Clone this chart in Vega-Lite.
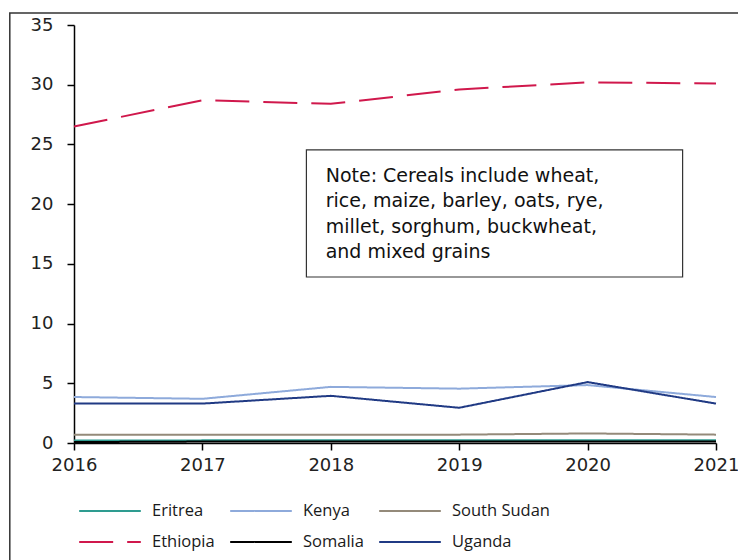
{
  "$schema": "https://vega.github.io/schema/vega-lite/v6.json",
  "width": 642,
  "height": 418,
  "autosize": {"type": "none"},
  "padding": {"left": 74, "top": 25, "right": 22, "bottom": 117},
  "background": "white",
  "config": {
    "view": {"stroke": null},
    "font": "DejaVu Sans"
  },
  "datasets": {
    "cereal": [
      {"country": "Ethiopia", "year": 2016, "value": 26.5},
      {"country": "Ethiopia", "year": 2017, "value": 28.7},
      {"country": "Ethiopia", "year": 2018, "value": 28.4},
      {"country": "Ethiopia", "year": 2019, "value": 29.6},
      {"country": "Ethiopia", "year": 2020, "value": 30.2},
      {"country": "Ethiopia", "year": 2021, "value": 30.1},
      {"country": "Kenya", "year": 2016, "value": 3.85},
      {"country": "Kenya", "year": 2017, "value": 3.7},
      {"country": "Kenya", "year": 2018, "value": 4.7},
      {"country": "Kenya", "year": 2019, "value": 4.55},
      {"country": "Kenya", "year": 2020, "value": 4.85},
      {"country": "Kenya", "year": 2021, "value": 3.85},
      {"country": "Uganda", "year": 2016, "value": 3.3},
      {"country": "Uganda", "year": 2017, "value": 3.3},
      {"country": "Uganda", "year": 2018, "value": 3.95},
      {"country": "Uganda", "year": 2019, "value": 2.95},
      {"country": "Uganda", "year": 2020, "value": 5.1},
      {"country": "Uganda", "year": 2021, "value": 3.3},
      {"country": "South Sudan", "year": 2016, "value": 0.7},
      {"country": "South Sudan", "year": 2017, "value": 0.7},
      {"country": "South Sudan", "year": 2018, "value": 0.7},
      {"country": "South Sudan", "year": 2019, "value": 0.7},
      {"country": "South Sudan", "year": 2020, "value": 0.8},
      {"country": "South Sudan", "year": 2021, "value": 0.7},
      {"country": "Eritrea", "year": 2016, "value": 0.2},
      {"country": "Eritrea", "year": 2017, "value": 0.22},
      {"country": "Eritrea", "year": 2018, "value": 0.22},
      {"country": "Eritrea", "year": 2019, "value": 0.22},
      {"country": "Eritrea", "year": 2020, "value": 0.23},
      {"country": "Eritrea", "year": 2021, "value": 0.22},
      {"country": "Somalia", "year": 2016, "value": 0.08},
      {"country": "Somalia", "year": 2017, "value": 0.12},
      {"country": "Somalia", "year": 2018, "value": 0.12},
      {"country": "Somalia", "year": 2019, "value": 0.12},
      {"country": "Somalia", "year": 2020, "value": 0.12},
      {"country": "Somalia", "year": 2021, "value": 0.12}
    ],
    "one": [{}]
  },
  "layer": [
    {
      "data": {"name": "one"},
      "mark": {"type": "rect", "fill": null, "stroke": "#333333", "strokeWidth": 1.5, "clip": false},
      "encoding": {
        "x": {"datum": 2015.5, "type": "quantitative"},
        "x2": {"datum": 2021.4},
        "y": {"datum": 36.0, "type": "quantitative"},
        "y2": {"datum": -12}
      }
    },
    {
      "data": {"name": "cereal"},
      "mark": {"type": "line", "clip": false},
      "encoding": {
        "x": {
          "field": "year", "type": "quantitative",
          "scale": {"domain": [2016, 2021], "nice": false, "zero": false},
          "axis": {
            "title": null, "values": [2016, 2017, 2018, 2019, 2020, 2021], "format": "d",
            "grid": false, "domainColor": "#000", "tickColor": "#000", "tickSize": 7,
            "labelFontSize": 18, "labelColor": "#222", "labelPadding": 6, "labelFlush": false,
            "domainWidth": 1.5, "tickWidth": 1.5
          }
        },
        "y": {
          "field": "value", "type": "quantitative",
          "scale": {"domain": [0, 35], "nice": false},
          "axis": {
            "title": null, "values": [0, 5, 10, 15, 20, 25, 30, 35],
            "grid": false, "domainColor": "#000", "tickColor": "#000", "tickSize": 7,
            "labelFontSize": 18, "labelColor": "#222", "labelPadding": 14,
            "domainWidth": 1.5, "tickWidth": 1.5
          }
        },
        "color": {
          "field": "country", "type": "nominal",
          "scale": {
            "domain": ["Eritrea", "Kenya", "South Sudan", "Ethiopia", "Somalia", "Uganda"],
            "range": ["#2e9c90", "#8eaadb", "#948a7a", "#d0184c", "#000000", "#203a84"]
          },
          "legend": {
            "title": null, "orient": "none", "legendX": 4, "legendY": 476,
            "direction": "horizontal", "columns": 3, "symbolType": "stroke",
            "symbolSize": 3800, "labelFont": "Open Sans", "labelFontSize": 16.5,
            "labelColor": "#1a1a1a", "labelOffset": 10, "columnPadding": 14, "rowPadding": 11,
            "clipHeight": 20,
            "padding": 0, "symbolStrokeWidth": 2
          }
        },
        "strokeDash": {
          "field": "country", "type": "nominal",
          "scale": {
            "domain": ["Eritrea", "Kenya", "South Sudan", "Ethiopia", "Somalia", "Uganda"],
            "range": [[1, 0], [1, 0], [1, 0], [34, 14], [1, 0], [1, 0]]
          }
        },
        "strokeWidth": {
          "field": "country", "type": "nominal",
          "scale": {
            "domain": ["Eritrea", "Kenya", "South Sudan", "Ethiopia", "Somalia", "Uganda"],
            "range": [2, 2, 2, 3, 2, 2]
          }
        },
        "order": {"field": "year", "type": "quantitative"}
      }
    },
    {
      "data": {"name": "one"},
      "mark": {"type": "rect", "fill": "white", "stroke": "#333333", "strokeWidth": 1.2},
      "encoding": {
        "x": {"datum": 2017.81, "type": "quantitative"},
        "x2": {"datum": 2020.74},
        "y": {"datum": 24.54, "type": "quantitative"},
        "y2": {"datum": 13.9}
      }
    },
    {
      "data": {"name": "one"},
      "mark": {
        "type": "text", "align": "left", "baseline": "top", "font": "DejaVu Sans",
        "fontSize": 19, "lineHeight": 25.5, "color": "#111",
        "text": ["Note: Cereals include wheat,", "rice, maize, barley, oats, rye,", "millet, sorghum, buckwheat,", "and mixed grains"]
      },
      "encoding": {
        "x": {"datum": 2017.96, "type": "quantitative"},
        "y": {"datum": 23.12, "type": "quantitative"}
      }
    }
  ]
}
